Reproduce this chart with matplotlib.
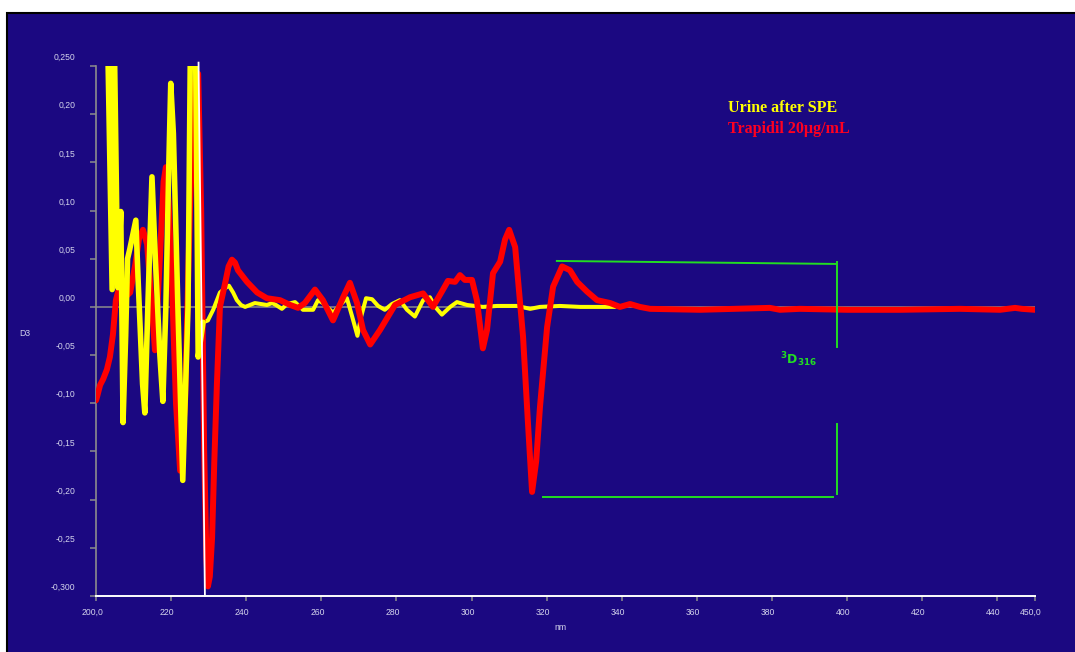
# third-derivative spectra: urine blank after SPE vs. trapidil standard

import matplotlib
matplotlib.use("Agg")
import matplotlib.pyplot as plt
from matplotlib.patches import Rectangle
from matplotlib.transforms import ScaledTranslation

# wavelength (nm) / D3 amplitude, read point by point
red_nm = [200.0, 200.3, 201.1, 201.9, 202.9, 203.7, 204.5, 205.3, 205.9, 206.9,
          208.3, 209.1, 210.5, 211.5, 212.5, 213.6, 214.7, 215.7, 217.0, 218.0,
          218.6, 219.3, 220.0, 221.3, 222.4, 223.7, 225.0, 226.4, 227.2, 228.0,
          228.8, 229.4, 229.8, 230.3, 230.9, 231.5, 232.2, 233.0, 234.4, 235.3,
          236.2, 237.0, 237.8, 240.2, 242.9, 245.5, 249.0, 251.7, 253.8, 255.6,
          258.3, 260.4, 263.1, 265.8, 267.6, 269.5, 271.1, 273.0, 275.6, 279.6,
          283.6, 287.1, 289.7, 292.1, 293.7, 295.6, 296.9, 298.2, 300.1, 301.4,
          303.0, 304.1, 305.7, 307.6, 308.9, 310.0, 311.6, 313.7, 315.0, 316.1,
          317.2, 318.2, 320.1, 321.7, 324.1, 326.2, 328.1, 330.7, 333.4, 336.9,
          339.5, 342.2, 344.8, 347.5, 360.8, 370.0, 379.4, 382.1, 387.4, 400.0,
          414.1, 430.0, 440.7, 444.7, 446.5, 450.0]
red_d3 = [-0.097, -0.093, -0.081, -0.075, -0.065, -0.052, -0.029, 0.007, 0.016, 0.015,
          0.012, 0.015, 0.045, 0.072, 0.080, 0.065, 0.010, -0.045, 0.050, 0.130,
          0.145, 0.110, 0.050, -0.100, -0.170, -0.100, 0.100, 0.235, 0.242, 0.100,
          -0.150, -0.260, -0.290, -0.280, -0.240, -0.160, -0.079, 0.000, 0.025, 0.042,
          0.049, 0.046, 0.038, 0.026, 0.015, 0.009, 0.007, 0.002, -0.001, 0.004,
          0.018, 0.007, -0.014, 0.010, 0.025, 0.004, -0.024, -0.039, -0.024, 0.002,
          0.010, 0.014, 0.000, 0.016, 0.027, 0.026, 0.033, 0.028, 0.028, 0.007,
          -0.043, -0.024, 0.035, 0.047, 0.070, 0.080, 0.062, -0.031, -0.120, -0.192,
          -0.160, -0.104, -0.021, 0.021, 0.042, 0.038, 0.026, 0.016, 0.007, 0.004,
          0.000, 0.003, 0.000, -0.002, -0.003, -0.002, -0.001, -0.003, -0.002, -0.003,
          -0.003, -0.002, -0.003, -0.001, -0.002, -0.003]

# urine blank, low-wavelength part (strong noise below the cut-off)
urine_lo_nm = [203.0, 204.3, 204.8, 205.8, 206.6, 207.2, 207.9, 208.4, 209.0,
               210.6, 211.3, 212.4, 213.0, 213.8, 214.9, 215.8, 217.0, 217.8, 218.6,
               219.4, 219.9, 220.6, 221.8, 223.1, 224.5, 225.2, 226.2, 226.9, 227.2,
               228.0, 228.5]
urine_lo_d3 = [0.300, 0.018, 0.300, 0.020, 0.099, -0.120, -0.030, 0.050, 0.060,
               0.090, 0.020, -0.080, -0.110, 0.000, 0.135, 0.050, -0.050, -0.098, 0.000,
               0.150, 0.232, 0.180, 0.000, -0.180, 0.000, 0.300, 0.400, 0.100, -0.052,
               -0.030, -0.016]

# urine blank, rest of the range
urine_hi_nm = [228.5, 229.8, 231.2, 233.0, 234.6, 235.4, 236.5, 237.5, 238.6, 239.7,
               241.0, 242.3, 243.9, 245.5, 246.9, 247.9, 249.5, 250.9, 253.0, 255.1,
               257.8, 259.1, 260.4, 261.5, 263.1, 265.0, 266.8, 268.2, 269.6, 270.6,
               271.9, 273.5, 275.1, 276.9, 278.8, 280.9, 282.8, 284.9, 287.1, 288.9,
               290.3, 292.1, 294.3, 296.1, 298.8, 303.0, 306.8, 312.1, 315.6, 318.2,
               323.5, 328.9, 335.0, 338.2]
urine_hi_d3 = [-0.016, -0.014, -0.003, 0.015, 0.020, 0.022, 0.015, 0.007, 0.002, 0.000,
               0.002, 0.004, 0.003, 0.002, 0.004, 0.002, -0.002, 0.003, 0.005, -0.003,
               -0.003, 0.007, 0.004, 0.000, -0.006, 0.002, 0.009, -0.010, -0.030, -0.010,
               0.009, 0.008, 0.001, -0.003, 0.003, 0.007, -0.003, -0.010, 0.007, 0.010,
               0.000, -0.008, 0.000, 0.005, 0.002, 0.000, 0.001, 0.001, -0.002, 0.000,
               0.001, 0.000, 0.000, 0.000]

x_ticks = [200, 220, 240, 260, 280, 300, 320, 340, 360, 380, 400, 420, 440, 450]
x_labels = ["200,0", "220", "240", "260", "280", "300", "320", "340", "360",
            "380", "400", "420", "440", "450,0"]
y_ticks = [-0.30, -0.25, -0.20, -0.15, -0.10, -0.05, 0.0, 0.05, 0.10, 0.15, 0.20, 0.25]
y_labels = ["-0,300", "-0,25", "-0,20", "-0,15", "-0,10", "-0,05", "0,00",
            "0,05", "0,10", "0,15", "0,20", "0,250"]

PANEL = "#1b0881"
AXIS_GREY = "#8c8c8c"
TICK_TEXT = "#d4d4ec"
GREEN = "#22dd22"


def main():
    fig = plt.figure(figsize=(10.75, 6.52), dpi=100, facecolor="white")

    # dark panel behind the axes, black frame only shows on the top and left edges
    panel = Rectangle((7 / 1075, -0.05), 1.1, 0.05 + 639 / 652,
                      transform=fig.transFigure, facecolor=PANEL,
                      edgecolor="black", linewidth=1.5, zorder=-10)
    fig.add_artist(panel)

    ax = fig.add_axes([96 / 1075, 56 / 652, 939 / 1075, 530 / 652])
    ax.set_zorder(1)
    ax.patch.set_visible(False)
    ax.set_xlim(200, 450)
    ax.set_ylim(-0.30, 0.25)

    ax.axhline(0, color=AXIS_GREY, linewidth=1.1, zorder=1)

    ax.plot(urine_hi_nm, urine_hi_d3, color="#ffff00", linewidth=2.9,
            solid_capstyle="round", solid_joinstyle="round", zorder=2)
    ax.plot(red_nm, red_d3, color="#ff0000", linewidth=4.3,
            solid_capstyle="round", solid_joinstyle="round", zorder=3)
    ax.plot(urine_lo_nm, urine_lo_d3, color="#ffff00", linewidth=4.0,
            solid_capstyle="round", solid_joinstyle="round", zorder=4)

    # cut-off marker
    ax.plot([227.3, 229.0], [0.2535, -0.30], color="white", linewidth=1.3,
            clip_on=False, zorder=5)

    # amplitude bracket for 3D316
    ax.plot([322.7, 396.8], [0.0477, 0.0446], color=GREEN, linewidth=1.4, zorder=5)
    ax.plot([318.9, 396.2], [-0.1976, -0.1976], color=GREEN, linewidth=1.4, zorder=5)
    ax.plot([397.3, 397.3], [0.0467, -0.0415], color=GREEN, linewidth=1.4, zorder=5)
    ax.plot([397.3, 397.3], [-0.1214, -0.194], color=GREEN, linewidth=1.4, zorder=5)
    ax.text(382.0, -0.055, r"${}^{\mathbf{3}}\mathbf{D}_{\mathbf{316}}$", color=GREEN,
            fontsize=9, ha="left", va="center", zorder=6)

    ax.text(368.3, 0.2064, "Urine after SPE", color="#ffff00", fontsize=11.5,
            family="Liberation Serif", fontweight="bold", ha="left", va="center")
    ax.text(368.3, 0.1846, "Trapidil 20\u00b5g/mL", color="#ff0020", fontsize=11.5,
            family="Liberation Serif", fontweight="bold", ha="left", va="center")

    # axes styling
    for side in ("top", "right"):
        ax.spines[side].set_visible(False)
    ax.spines["left"].set_color(AXIS_GREY)
    ax.spines["left"].set_linewidth(1.2)
    ax.spines["bottom"].set_color("white")
    ax.spines["bottom"].set_linewidth(1.4)

    ax.set_xticks(x_ticks)
    ax.set_xticklabels(x_labels)
    ax.set_yticks(y_ticks)
    ax.set_yticklabels(y_labels)
    ax.tick_params(axis="y", direction="out", length=4.5, width=1.1,
                   color=AXIS_GREY, pad=10.5, labelsize=6.2, labelcolor=TICK_TEXT)
    ax.tick_params(axis="x", direction="out", length=3.8, width=1.1,
                   color=AXIS_GREY, pad=5, labelsize=6.2, labelcolor=TICK_TEXT)
    for lab in ax.get_xticklabels() + ax.get_yticklabels():
        lab.set_family("Liberation Sans")

    # labels sit a little above / left of their ticks
    up = ScaledTranslation(0, 0.095, fig.dpi_scale_trans)
    for lab in ax.get_yticklabels():
        lab.set_transform(lab.get_transform() + up)
    left = ScaledTranslation(-0.04, 0, fig.dpi_scale_trans)
    for lab in ax.get_xticklabels():
        lab.set_transform(lab.get_transform() + left)

    fig.text(25 / 1075, (652 - 334) / 652, "D3", color=TICK_TEXT, fontsize=6.2,
             family="Liberation Sans", ha="center", va="center")
    fig.text(560 / 1075, (652 - 628) / 652, "nm", color=TICK_TEXT, fontsize=6.2,
             family="Liberation Sans", ha="center", va="center")

    fig.savefig("out.png", dpi=100, facecolor="white")
    plt.close(fig)


if __name__ == "__main__":
    main()
